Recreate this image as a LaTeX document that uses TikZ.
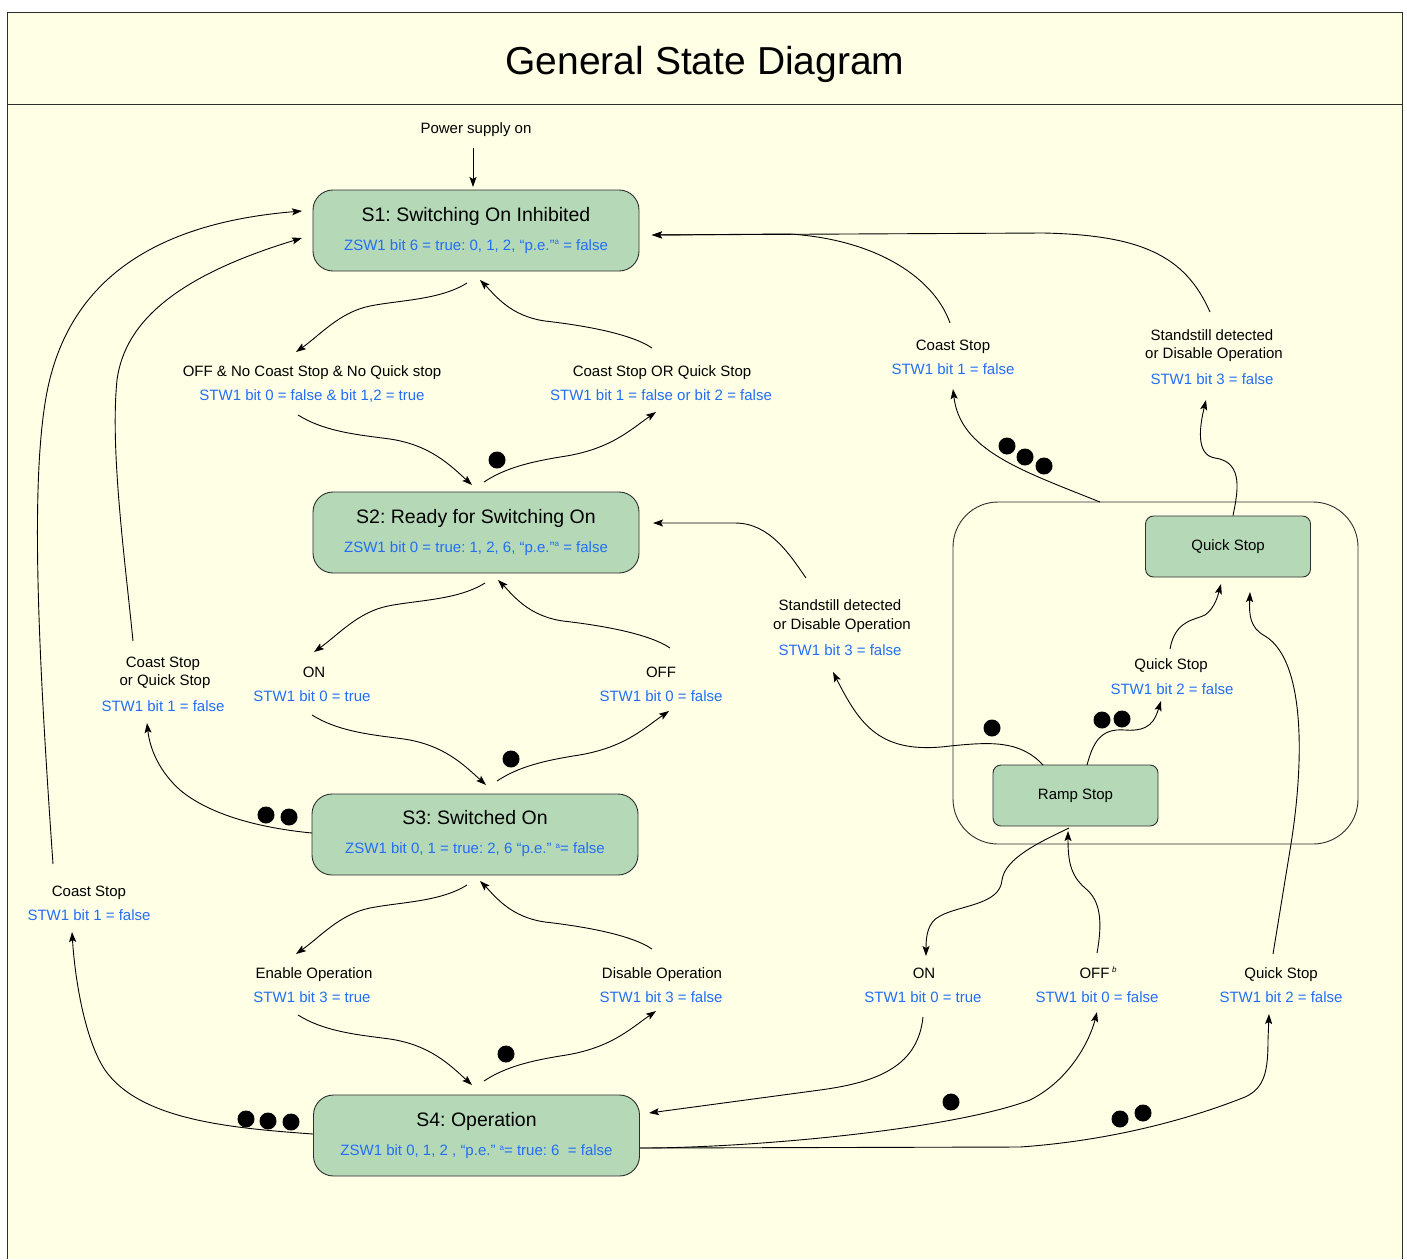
\documentclass[tikz,border=0pt]{standalone}
\usepackage{fontspec}
\setmainfont{Liberation Sans}
\usetikzlibrary{arrows.meta}
\definecolor{bgyel}{RGB}{255,255,230}
\definecolor{stgreen}{RGB}{181,217,183}
\definecolor{stwblue}{RGB}{35,110,245}
\definecolor{edgec}{RGB}{45,45,45}
\newcommand\lblfont{\fontsize{15}{18}\selectfont}
\newcommand\stfont{\fontsize{19.5}{23}\selectfont}
\newcommand\supa{\raisebox{5.5pt}{\fontsize{8}{8}\selectfont a}}
\frenchspacing
\tikzset{
  statebox/.style={draw=edgec, fill=stgreen, rounded corners=20pt, minimum width=326pt, minimum height=81pt, line width=0.9pt, inner sep=0pt},
  subbox/.style={draw=edgec, fill=stgreen, rounded corners=8pt, minimum width=165pt, minimum height=61pt, line width=0.9pt, font=\lblfont},
  lbl/.style={anchor=base, inner sep=0pt, font=\lblfont},
  blu/.style={lbl, text=stwblue},
  sttitle/.style={anchor=base, inner sep=0pt, font=\stfont},
  arr/.style={-{Stealth[length=10pt,width=7pt,inset=2pt]}, line width=0.9pt, draw=black},
  pin/.style={fill=black},
}
\begin{document}
\begin{tikzpicture}[x=1pt,y=-1pt]
\useasboundingbox (0,0) rectangle (1407,1259);
\fill[white] (0,0) rectangle (1407,1259);
\fill[bgyel] (7,12) rectangle (1402,1259);
\draw[edgec, line width=0.9pt] (7,1259) -- (7,12) -- (1402,12) -- (1402,1259);
\draw[edgec, line width=0.9pt] (7,104) -- (1402,104);
\node[anchor=base, inner sep=0pt, font=\fontsize{39}{45}\selectfont] (title) at (705,74) {General State Diagram};

% states
\node[statebox] (s1) at (476,230.5) {};
\node[statebox] (s2) at (476,532.5) {};
\node[statebox] (s3) at (475,834.5) {};
\node[statebox] (s4) at (476.5,1135.5) {};
\node[sttitle] (s1t) at ([shift={(0,-9.5)}]s1.center) {S1: Switching On Inhibited};
\node[blu] (s1b) at ([shift={(0,19.5)}]s1.center) {ZSW1 bit 6 = true: 0, 1, 2, “p.e.”\supa\ = false};
\node[sttitle] (s2t) at ([shift={(0,-9.5)}]s2.center) {S2: Ready for Switching On};
\node[blu] (s2b) at ([shift={(0,19.5)}]s2.center) {ZSW1 bit 0 = true: 1, 2, 6, “p.e.”\supa\ = false};
\node[sttitle] (s3t) at ([shift={(0,-10.5)}]s3.center) {S3: Switched On};
\node[blu] (s3b) at ([shift={(0,19)}]s3.center) {ZSW1 bit 0, 1 = true: 2, 6 “p.e.” \supa= false};
\node[sttitle] (s4t) at ([shift={(0,-9.5)}]s4.center) {S4: Operation};
\node[blu] (s4b) at ([shift={(0,20)}]s4.center) {ZSW1 bit 0, 1, 2 , “p.e.” \supa= true: 6\ \ = false};

% container and sub-states
\draw[edgec, line width=0.9pt, rounded corners=45pt] (953,502) rectangle (1358,844);
\coordinate (grpn) at (1155.5,502);
\node[subbox] (rs) at (1075.5,795.5) {Ramp Stop};
\node[subbox] (qs) at (1228,546.5) {Quick Stop};

% labels
\node[lbl] (ps) at (476,133) {Power supply on};
\node[lbl] (a1) at (312,376) {OFF \& No Coast Stop \& No Quick stop};
\node[blu] (a1b) at (312,400) {STW1 bit 0 = false \& bit 1,2 = true};
\node[lbl] (b1) at (662,376) {Coast Stop OR Quick Stop};
\node[blu] (b1b) at (661,400) {STW1 bit 1 = false or bit 2 = false};
\node[lbl] (a2) at (314,677) {ON};
\node[blu] (a2b) at (312,701) {STW1 bit 0 = true};
\node[lbl] (b2) at (661,677) {OFF};
\node[blu] (b2b) at (661,701) {STW1 bit 0 = false};
\node[lbl] (a3) at (314,978) {Enable Operation};
\node[blu] (a3b) at (312,1002) {STW1 bit 3 = true};
\node[lbl] (b3) at (662,978) {Disable Operation};
\node[blu] (b3b) at (661,1002) {STW1 bit 3 = false};
\node[lbl] (csq1) at (163,667) {Coast Stop};
\node[lbl] (csq2) at (165,685) {or Quick Stop};
\node[blu] (csqb) at (163,711) {STW1 bit 1 = false};
\node[lbl] (cs) at (89,896) {Coast Stop};
\node[blu] (csb) at (89,920) {STW1 bit 1 = false};
\node[lbl] (rc) at (953,350) {Coast Stop};
\node[blu] (rcb) at (953,374) {STW1 bit 1 = false};
\node[lbl] (su1) at (1212,340) {Standstill detected};
\node[lbl] (su2) at (1214,358) {or Disable Operation};
\node[blu] (sub) at (1212,384) {STW1 bit 3 = false};
\node[lbl] (sm1) at (840,610) {Standstill detected};
\node[lbl] (sm2) at (842,629) {or Disable Operation};
\node[blu] (smb) at (840,655) {STW1 bit 3 = false};
\node[lbl] (qi) at (1171,669) {Quick Stop};
\node[blu] (qib) at (1172,694) {STW1 bit 2 = false};
\node[lbl] (on) at (924,978) {ON};
\node[blu] (onb) at (923,1002) {STW1 bit 0 = true};
\node[lbl] (off) at (1098,978) {OFF\,\raisebox{6pt}{\fontsize{8}{8}\selectfont\itshape b}};
\node[blu] (offb) at (1097,1002) {STW1 bit 0 = false};
\node[lbl] (qb) at (1281,978) {Quick Stop};
\node[blu] (qbb) at (1281,1002) {STW1 bit 2 = false};

% power on
\draw[arr] ([shift={(-3,15)}]ps.base) -- ([shift={(-3,-43.5)}]s1.center);

% S1 <-> S2
\draw[arr] ([shift={(-9,52.5)}]s1.center) .. controls (440,300) and (400,300) .. (370,306) .. controls (340,312) and (320,335) .. ([shift={(-16,-24)}]a1.base);
\draw[arr] ([shift={(-10,-28)}]b1.base) .. controls (630,333) and (580,325) .. (545,321) .. controls (510,316) and (495,295) .. ([shift={(4,49.5)}]s1.center);
\draw[arr] ([shift={(-14,15)}]a1b.base) .. controls (325,432) and (360,435) .. (390,439) .. controls (430,445) and (450,465) .. ([shift={(-4,-47.5)}]s2.center);
\draw[arr] ([shift={(8,-50.5)}]s2.center) .. controls (505,468) and (530,462) .. (560,457) .. controls (610,450) and (630,430) .. ([shift={(-5,12)}]b1b.base);
\fill[pin] (497,460) circle[radius=8.5pt];

% S2 <-> S3
\draw[arr] ([shift={(9,50.5)}]s2.center) .. controls (458,600) and (418,600) .. (388,606) .. controls (358,612) and (338,635) .. ([shift={(0,-25)}]a2.base);
\draw[arr] ([shift={(9,-29)}]b2.base) .. controls (648,633) and (598,625) .. (563,621) .. controls (528,616) and (513,595) .. ([shift={(22,47.5)}]s2.center);
\draw[arr] ([shift={(0,14)}]a2b.base) .. controls (339,732) and (374,735) .. (404,739) .. controls (444,745) and (464,765) .. ([shift={(11,-49.5)}]s3.center);
\draw[arr] ([shift={(22,-53.5)}]s3.center) .. controls (518,767) and (543,761) .. (573,756) .. controls (623,749) and (643,729) .. ([shift={(8,10)}]b2b.base);
\fill[pin] (511,759) circle[radius=8.5pt];

% S3 <-> S4
\draw[arr] ([shift={(-8,50.5)}]s3.center) .. controls (440,902) and (400,902) .. (370,908) .. controls (340,914) and (320,937) .. ([shift={(-18,-24)}]a3.base);
\draw[arr] ([shift={(-10,-29)}]b3.base) .. controls (630,934) and (580,926) .. (545,922) .. controls (510,917) and (495,896) .. ([shift={(5,46.5)}]s3.center);
\draw[arr] ([shift={(-14,13)}]a3b.base) .. controls (325,1032) and (360,1035) .. (390,1039) .. controls (430,1045) and (450,1065) .. ([shift={(-4.5,-50.5)}]s4.center);
\draw[arr] ([shift={(7.5,-54.5)}]s4.center) .. controls (505,1067) and (530,1061) .. (560,1056) .. controls (610,1049) and (630,1029) .. ([shift={(-5,9)}]b3b.base);
\fill[pin] (506,1054) circle[radius=8.5pt];

% left side
\draw[arr] ([shift={(-30,-26)}]csq1.base) .. controls (125,560) and (110,450) .. (117,380) .. controls (125,320) and (180,275) .. ([shift={(-174,7.5)}]s1.center);
\draw[arr] ([shift={(-163,-1.5)}]s3.center) .. controls (260,828) and (210,815) .. (180,790) .. controls (160,772) and (150,750) .. ([shift={(-16,12)}]csqb.base);
\fill[pin] (266,815) circle[radius=8.5pt];
\fill[pin] (289,817) circle[radius=8.5pt];
\draw[arr] ([shift={(-36,-32)}]cs.base) .. controls (38,650) and (30,480) .. (47,392) .. controls (65,300) and (130,225) .. ([shift={(-174,-19.5)}]s1.center);
\draw[arr] ([shift={(-163.5,-1.5)}]s4.center) .. controls (230,1128) and (140,1120) .. (105,1070) .. controls (85,1040) and (75,980) .. ([shift={(-17,12)}]csb.base);
\fill[pin] (246,1119) circle[radius=8.5pt];
\fill[pin] (268,1121) circle[radius=8.5pt];
\fill[pin] (291,1122) circle[radius=8.5pt];

% right top
\draw[arr] ([shift={(-3,-27)}]rc.base) .. controls (935,280) and (880,240) .. (790,234) -- ([shift={(176,4.5)}]s1.center);
\draw[arr] ([shift={(-2,-28)}]su1.base) .. controls (1185,255) and (1140,235) .. (1043,233) -- ([shift={(176,4.5)}]s1.center);
\draw[arr] ([shift={(-55.5,0)}]grpn) .. controls (1020,470) and (960,450) .. ([shift={(0,15)}]rcb.base);
\fill[pin] (1007,446) circle[radius=8.5pt];
\fill[pin] (1025,457) circle[radius=8.5pt];
\fill[pin] (1044,466) circle[radius=8.5pt];
\draw[arr] ([shift={(5,0)}]qs.north) .. controls (1237,495) and (1245,462) .. (1215,458) .. controls (1195,455) and (1200,425) .. ([shift={(-6,16)}]sub.base);

% middle right
\draw[arr] ([shift={(-34,-32)}]sm1.base) .. controls (790,555) and (770,523) .. (735,523) -- ([shift={(177,-9.5)}]s2.center);
\draw[arr] ([shift={(-32.5,-30.5)}]rs.center) .. controls (1020,740) and (990,742) .. (950,746) .. controls (880,755) and (860,725) .. ([shift={(-7,17)}]smb.base);
\fill[pin] (992,728) circle[radius=8.5pt];
\draw[arr] ([shift={(11.5,-30.5)}]rs.center) .. controls (1093,743) and (1100,728) .. (1125,730) .. controls (1150,732) and (1155,720) .. ([shift={(-11,7)}]qib.base);
\fill[pin] (1102,720) circle[radius=8.5pt];
\fill[pin] (1122,719) circle[radius=8.5pt];
\draw[arr] ([shift={(-1,-20)}]qi.base) .. controls (1175,620) and (1195,620) .. (1205,615) .. controls (1215,608) and (1218,595) .. ([shift={(-7,37.5)}]qs.center);
\draw[arr] ([shift={(-8,-24)}]qb.base) -- (1290,850) .. controls (1305,760) and (1305,660) .. (1265,636) .. controls (1250,628) and (1249,615) .. ([shift={(22,45.5)}]qs.center);

% bottom right
\draw[arr] ([shift={(-6.5,32.5)}]rs.center) .. controls (1040,842) and (1005,858) .. (1002,880) .. controls (1000,905) and (960,905) .. (940,916) .. controls (928,922) and (926,935) .. ([shift={(2,-22)}]on.base);
\draw[arr] ([shift={(-1,-25)}]off.base) .. controls (1103,920) and (1100,900) .. (1085,888) .. controls (1070,875) and (1068,860) .. ([shift={(-7.5,35.5)}]rs.center);
\draw[arr] ([shift={(0,15)}]onb.base) .. controls (918,1065) and (880,1082) .. (820,1090) -- ([shift={(172.5,-22.5)}]s4.center);
\draw[arr] ([shift={(163.5,12.5)}]s4.center) .. controls (750,1148) and (950,1130) .. (1030,1100) .. controls (1070,1080) and (1090,1040) .. ([shift={(0,10)}]offb.base);
\fill[pin] (951,1102) circle[radius=8.5pt];
\draw[arr] ([shift={(163.5,12.5)}]s4.center) -- (1020,1147) .. controls (1120,1140) and (1200,1115) .. (1245,1097) .. controls (1265,1088) and (1268,1070) .. (1268,1040) -- ([shift={(-12,12)}]qbb.base);
\fill[pin] (1120,1119) circle[radius=8.5pt];
\fill[pin] (1143,1113) circle[radius=8.5pt];
\end{tikzpicture}
\end{document}
